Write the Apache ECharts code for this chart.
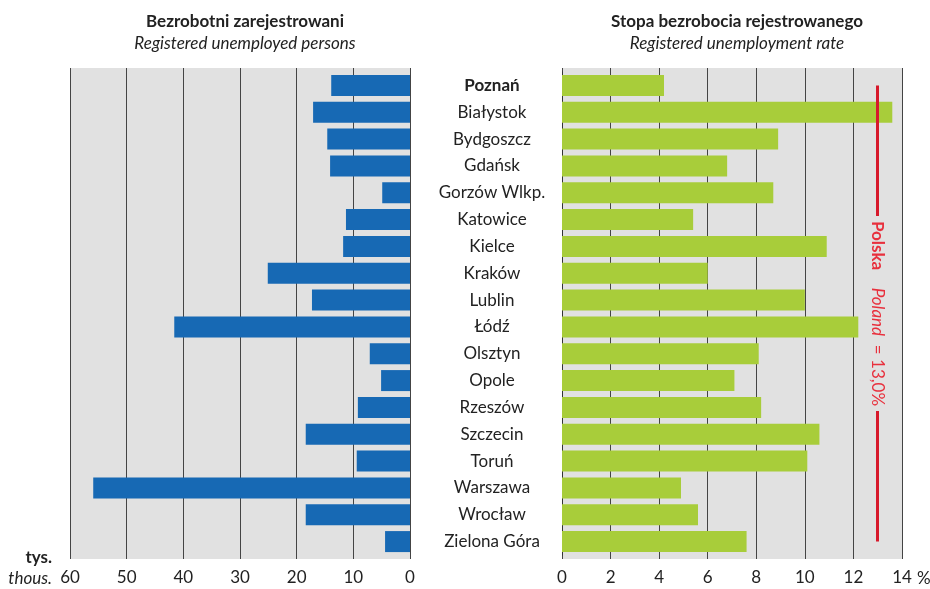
<!DOCTYPE html>
<html>
<head>
<meta charset="utf-8">
<script src="https://cdn.jsdelivr.net/npm/echarts@6/dist/echarts.min.js"></script>
<style>
    html, body { margin: 0; padding: 0; background: #fff; }
    #chart { width: 930px; height: 589px; }
</style>
</head>
<body>
<div id="chart"></div>
<script>
// miasta (kategorie)
var cities = ['Poznań', 'Białystok', 'Bydgoszcz', 'Gdańsk', 'Gorzów Wlkp.', 'Katowice', 'Kielce', 'Kraków', 'Lublin',
    'Łódź', 'Olsztyn', 'Opole', 'Rzeszów', 'Szczecin', 'Toruń', 'Warszawa', 'Wrocław', 'Zielona Góra'];
// bezrobotni zarejestrowani, tys.
var unemployed = [13.9, 17.1, 14.6, 14.1, 4.9, 11.3, 11.8, 25.1, 17.3,
    41.6, 7.1, 5.1, 9.2, 18.4, 9.4, 55.9, 18.4, 4.4];
// stopa bezrobocia, %
var rate = [4.2, 13.6, 8.9, 6.8, 8.7, 5.4, 10.9, 6.0, 10.0,
    12.2, 8.1, 7.1, 8.2, 10.6, 10.1, 4.9, 5.6, 7.6];
var polandRate = 13.0;
var leftTicks = [0, 60, 10];   // min, max, interval
var rightTicks = [0, 14, 2];

var FONT = 'Lato';
var FS = 17;
var TXT = '#222';
var chart = echarts.init(document.getElementById('chart'));

var gridLine = { show: true, lineStyle: { color: '#444', width: 1 } };

var option = {
    animation: false,
    textStyle: { fontFamily: FONT },
    title: [{
        text: 'Bezrobotni zarejestrowani',
        subtext: 'Registered unemployed persons',
        left: 240, top: 8, textAlign: 'center', itemGap: 5,
        textStyle: { fontFamily: FONT, fontSize: FS, fontWeight: 'bold', color: TXT },
        subtextStyle: { fontFamily: FONT, fontSize: FS, fontStyle: 'italic', color: TXT }
    }, {
        text: 'Stopa bezrobocia rejestrowanego',
        subtext: 'Registered unemployment rate',
        left: 732, top: 8, textAlign: 'center', itemGap: 5,
        textStyle: { fontFamily: FONT, fontSize: FS, fontWeight: 'bold', color: TXT },
        subtextStyle: { fontFamily: FONT, fontSize: FS, fontStyle: 'italic', color: TXT }
    }],
    grid: [
        // tła z liniami siatki
        { left: 70, right: 520, top: 68, bottom: 30, show: true, backgroundColor: '#e1e1e1', borderWidth: 0 },
        { left: 562, right: 28, top: 68, bottom: 30, show: true, backgroundColor: '#e1e1e1', borderWidth: 0 },
        // słupki
        { left: 70, right: 520, top: 72, bottom: 34 },
        { left: 562, right: 28, top: 72, bottom: 34 }
    ],
    xAxis: [{
        gridIndex: 0, type: 'value', inverse: true,
        min: leftTicks[0], max: leftTicks[1], interval: leftTicks[2],
        axisLine: { show: false }, axisTick: { show: false },
        splitLine: gridLine,
        axisLabel: { color: TXT, fontSize: FS, margin: 10, fontFamily: FONT }
    }, {
        gridIndex: 1, type: 'value',
        min: rightTicks[0], max: rightTicks[1], interval: rightTicks[2],
        axisLine: { show: false }, axisTick: { show: false },
        splitLine: gridLine,
        axisLabel: { color: TXT, fontSize: FS, margin: 10, fontFamily: FONT }
    }, {
        gridIndex: 2, type: 'value', inverse: true,
        min: leftTicks[0], max: leftTicks[1], show: false
    }, {
        gridIndex: 3, type: 'value',
        min: rightTicks[0], max: rightTicks[1], show: false
    }],
    yAxis: [{
        gridIndex: 0, type: 'category', data: cities, show: false
    }, {
        gridIndex: 1, type: 'category', data: cities, show: false
    }, {
        gridIndex: 2, type: 'category', data: cities, inverse: true, show: false
    }, {
        gridIndex: 3, type: 'category', data: cities, inverse: true,
        axisLine: { show: true, lineStyle: { color: '#333', width: 1 } },
        axisTick: { show: false },
        axisLabel: {
            color: TXT, fontSize: FS, fontFamily: FONT, align: 'center', margin: 70,
            formatter: function (v, i) {
                return i === 0 ? '{b|' + v + '}' : v;
            },
            rich: { b: { fontWeight: 'bold', fontSize: FS, fontFamily: FONT, color: TXT } }
        }
    }],
    series: [{
        name: 'Bezrobotni',
        type: 'bar',
        xAxisIndex: 2, yAxisIndex: 2,
        data: unemployed,
        barWidth: 21,
        itemStyle: { color: '#1769b4' }
    }, {
        name: 'Stopa',
        type: 'bar',
        xAxisIndex: 3, yAxisIndex: 3,
        data: rate,
        barWidth: 21,
        itemStyle: { color: '#a8cd3a' },
        markLine: {
            symbol: 'none',
            silent: true,
            lineStyle: { color: '#d7192b', width: 3, type: 'solid' },
            label: {
                show: true,
                position: 'middle',
                distance: 0,
                verticalAlign: 'middle',
                align: 'center',
                backgroundColor: '#e1e1e1',
                padding: [0, 5],
                color: '#e8303d',
                fontSize: FS,
                fontFamily: FONT,
                formatter: '{b|Polska}    {i|Poland}  = 13,0%',
                rich: {
                    b: { fontWeight: 'bold', color: '#e8303d', fontSize: FS, fontFamily: FONT },
                    i: { fontStyle: 'italic', color: '#e8303d', fontSize: FS, fontFamily: FONT }
                }
            },
            data: [[
                { coord: [polandRate, 0] },
                { coord: [polandRate, cities.length - 1] }
            ]]
        }
    }]
};
chart.setOption(option);

// podpisy jednostek przy osiach
var x60 = chart.convertToPixel({ xAxisIndex: 0 }, leftTicks[1]);
var x14 = chart.convertToPixel({ xAxisIndex: 1 }, rightTicks[1]);
chart.setOption({
    graphic: [{
        type: 'text', x: x60 - 18, y: 558,
        style: { text: 'tys.', font: 'bold ' + FS + 'px ' + FONT, fill: TXT, align: 'right', verticalAlign: 'middle' }
    }, {
        type: 'text', x: x60 - 18, y: 579,
        style: { text: 'thous.', font: 'italic ' + FS + 'px ' + FONT, fill: TXT, align: 'right', verticalAlign: 'middle' }
    }, {
        type: 'text', x: x14 + 15, y: 579,
        style: { text: '%', font: FS + 'px ' + FONT, fill: TXT, align: 'left', verticalAlign: 'middle' }
    }]
});
</script>
</body>
</html>
